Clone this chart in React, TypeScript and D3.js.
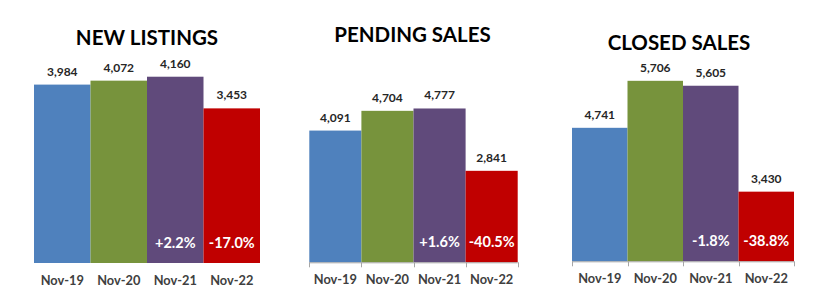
import React from "react";
import * as d3 from "d3";

const categories = ["Nov-19", "Nov-20", "Nov-21", "Nov-22"];
const titles = ["NEW LISTINGS", "PENDING SALES", "CLOSED SALES"];
const newListings = [3984, 4072, 4160, 3453];
const pendingSales = [4091, 4704, 4777, 2841];
const closedSales = [4741, 5706, 5605, 3430];
const newListingsChange = ["+2.2%", "-17.0%"];
const pendingSalesChange = ["+1.6%", "-40.5%"];
const closedSalesChange = ["-1.8%", "-38.8%"];
const barColors = ["#4f81bd", "#77933c", "#604a7b", "#c00000"];

const FONT = "Lato, 'Open Sans', sans-serif";

type PanelProps = {
  title: string;
  values: number[];
  changes: string[];
  x0: number;
  x1: number;
  base: number;
  top: number;
  domain: [number, number];
  titleX: number;
  titleY: number;
  axis: boolean;
};

function Panel(p: PanelProps) {
  const x = d3.scaleBand<string>().domain(categories).range([p.x0, p.x1]).padding(0);
  const y = d3.scaleLinear().domain(p.domain).range([p.base, p.top]);
  const fmt = d3.format(",");
  const bw = x.bandwidth();
  return (
    <g>
      <text x={p.titleX} y={p.titleY} textAnchor="middle" fontFamily={FONT} fontWeight={700} fontSize={20.5} fill="#000">
        {p.title}
      </text>
      {p.values.map((v, i) => (
        <g key={i}>
          <rect x={x(categories[i])} y={y(v)} width={bw} height={p.base - y(v)} fill={barColors[i]} />
          <text x={(x(categories[i]) as number) + bw / 2} y={y(v) - 9} textAnchor="middle" fontFamily={FONT} fontWeight={700} fontSize={12} fill="#262626">
            {fmt(v)}
          </text>
          <text x={(x(categories[i]) as number) + bw / 2} y={p.base + 21.5} textAnchor="middle" fontFamily={FONT} fontWeight={700} fontSize={12.8} fill="#404040">
            {categories[i]}
          </text>
        </g>
      ))}
      {p.changes.map((c, j) => {
        const cat = categories[j + 2];
        return (
          <text key={"c" + j} x={(x(cat) as number) + bw / 2} y={p.base - 15} textAnchor="middle" fontFamily={FONT} fontWeight={700} fontSize={14.5} fill="#ffffff">
            {c}
          </text>
        );
      })}
      {p.axis && (
        <g stroke="#a6a6a6" strokeWidth={1}>
          <line x1={p.x0} x2={p.x1} y1={p.base + 0.5} y2={p.base + 0.5} />
          {[...categories.map((c) => x(c) as number), p.x1].map((t, k) => (
            <line key={k} x1={Math.round(t) + 0.5} x2={Math.round(t) + 0.5} y1={p.base} y2={p.base + 5} />
          ))}
        </g>
      )}
    </g>
  );
}

export default function App() {
  return (
    <svg width={826} height={300} style={{ position: "absolute", left: 0, top: 0, background: "#fff" }}>
      <rect width={826} height={300} fill="#fff" />
      <Panel title={titles[0]} values={newListings} changes={newListingsChange} x0={34} x1={260} base={263} top={39.1} domain={[0, 5000]} titleX={147} titleY={45} axis={false} />
      <Panel title={titles[1]} values={pendingSales} changes={pendingSalesChange} x0={309.3} x1={517.7} base={262.3} top={69.1} domain={[0, 6000]} titleX={412.5} titleY={42} axis={true} />
      <Panel title={titles[2]} values={closedSales} changes={closedSalesChange} x0={572} x1={794} base={261.3} top={66.5} domain={[2000, 6000]} titleX={679} titleY={50} axis={true} />
    </svg>
  );
}
